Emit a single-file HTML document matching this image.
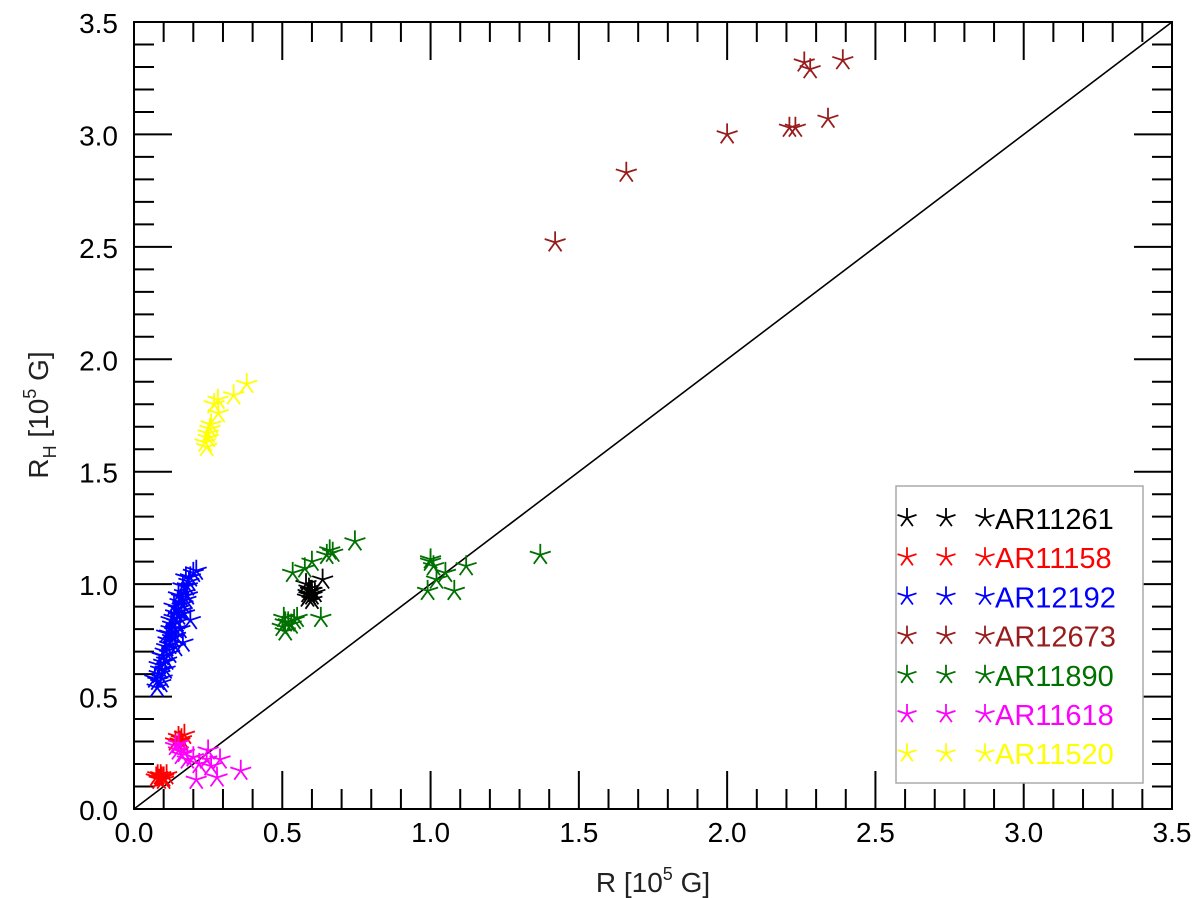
<!DOCTYPE html>
<html><head><meta charset="utf-8">
<style>
body{margin:0;background:#fff;}
svg{display:block;font-family:"Liberation Sans",Arial,sans-serif;}
</style></head>
<body>
<svg id="chart" width="1200" height="898" viewBox="0 0 1200 898" xmlns="http://www.w3.org/2000/svg">
<g id="axes"></g>
<g id="marks"></g>
<g id="legend"></g>
<text x="653" y="892" font-size="28" text-anchor="middle" fill="#222">R [10<tspan font-size="18" dy="-12">5</tspan><tspan dy="12"> G]</tspan></text>
<text transform="translate(48,415) rotate(-90)" font-size="28" text-anchor="middle" fill="#222">R<tspan font-size="18" dy="8">H</tspan><tspan dy="-8"> [10</tspan><tspan font-size="18" dy="-12">5</tspan><tspan dy="12"> G]</tspan></text>
</svg>
<script>
const xTicks=["0.0","0.5","1.0","1.5","2.0","2.5","3.0","3.5"];
const yTicks=["0.0","0.5","1.0","1.5","2.0","2.5","3.0","3.5"];
const seriesNames=["AR11261","AR11158","AR12192","AR12673","AR11890","AR11618","AR11520"];
const seriesColors=["#000000","#ff0000","#0000ff","#991c1c","#007000","#ff00ff","#ffff00"];
const ar11261=[[0.587,0.96],[0.60,0.95],[0.59,0.98],[0.58,1.0],[0.60,0.93],[0.595,0.97],[0.585,0.94],[0.61,0.96],[0.636,1.02],[0.59,0.95],[0.6,0.97]];
const ar11158=[[0.094,0.14],[0.08,0.15],[0.10,0.13],[0.11,0.15],[0.085,0.13],[0.09,0.15],[0.1,0.14],[0.075,0.14],[0.15,0.32],[0.16,0.31],[0.14,0.30],[0.17,0.33],[0.155,0.30]];
const ar12192=[[0.078,0.54],[0.08,0.57],[0.085,0.60],[0.09,0.62],[0.095,0.58],[0.10,0.65],[0.10,0.68],[0.105,0.70],[0.11,0.66],[0.11,0.72],[0.115,0.75],[0.12,0.73],[0.12,0.78],[0.125,0.80],[0.13,0.76],[0.13,0.82],[0.135,0.85],[0.14,0.80],[0.14,0.87],[0.145,0.83],[0.15,0.89],[0.15,0.86],[0.155,0.92],[0.16,0.88],[0.16,0.94],[0.165,0.74],[0.17,0.96],[0.175,0.93],[0.18,0.99],[0.185,1.01],[0.19,0.84],[0.19,1.03],[0.20,1.05],[0.21,1.06],[0.105,0.62],[0.12,0.69],[0.14,0.77],[0.09,0.56],[0.165,0.91],[0.18,0.95],[0.07,0.58],[0.085,0.64],[0.095,0.68],[0.11,0.78],[0.125,0.84],[0.135,0.90],[0.15,0.95],[0.165,0.99],[0.175,1.03],[0.14,0.72],[0.155,0.80],[0.17,0.87]];
const ar12673=[[1.42,2.52],[1.66,2.83],[2.0,3.0],[2.21,3.03],[2.23,3.03],[2.26,3.32],[2.28,3.29],[2.34,3.07],[2.39,3.33]];
const ar11890=[[0.50,0.81],[0.51,0.79],[0.52,0.83],[0.505,0.85],[0.53,0.82],[0.54,0.84],[0.55,0.85],[0.51,0.83],[0.63,0.85],[0.535,1.05],[0.576,1.07],[0.60,1.10],[0.65,1.13],[0.66,1.15],[0.67,1.14],[0.745,1.19],[0.99,0.97],[1.0,1.10],[1.0,1.11],[1.01,1.08],[1.02,1.02],[1.05,1.05],[1.08,0.97],[1.12,1.08],[1.37,1.13]];
const ar11618=[[0.15,0.26],[0.14,0.28],[0.16,0.24],[0.15,0.29],[0.2,0.23],[0.18,0.22],[0.245,0.22],[0.29,0.22],[0.25,0.26],[0.21,0.13],[0.28,0.14],[0.36,0.17],[0.22,0.20],[0.26,0.19],[0.17,0.25]];
const ar11520=[[0.245,1.61],[0.24,1.63],[0.25,1.65],[0.25,1.67],[0.256,1.69],[0.26,1.71],[0.284,1.76],[0.27,1.80],[0.283,1.82],[0.336,1.84],[0.38,1.89]];
const allSeries=[ar11261,ar11158,ar12192,ar12673,ar11890,ar11618,ar11520];

const X0=134,X1=1172,Y0=809,Y1=22,MAXV=3.5;
const sx=v=>X0+(X1-X0)*v/MAXV;
const sy=v=>Y0-(Y0-Y1)*v/MAXV;
const NS="http://www.w3.org/2000/svg";
function mk(tag,attrs,parent){const e=document.createElementNS(NS,tag);for(const k in attrs)e.setAttribute(k,attrs[k]);parent.appendChild(e);return e;}
const axes=document.getElementById('axes');
const frame=mk('rect',{x:X0,y:Y1,width:X1-X0,height:Y0-Y1,fill:'none',stroke:'#000','stroke-width':2},axes);


const diag=mk('line',{x1:sx(0),y1:sy(0),x2:sx(3.5),y2:sy(3.5),stroke:'#000','stroke-width':1.6},axes);


for(let i=0;i<=35;i++){
  const v=i/10, major=i%5===0, L=major?38:20;
  const x=sx(v), y=sy(v);
  mk('line',{x1:x,y1:Y0,x2:x,y2:Y0-L,stroke:'#000','stroke-width':2},axes);
  mk('line',{x1:x,y1:Y1,x2:x,y2:Y1+L,stroke:'#000','stroke-width':2},axes);
  mk('line',{x1:X0,y1:y,x2:X0+L,y2:y,stroke:'#000','stroke-width':2},axes);
  mk('line',{x1:X1,y1:y,x2:X1-L,y2:y,stroke:'#000','stroke-width':2},axes);
}
xTicks.forEach((t,i)=>{const e=mk('text',{x:sx(i*0.5),y:842,'font-size':28,'text-anchor':'middle',fill:'#000'},axes);e.textContent=t;

});
yTicks.forEach((t,i)=>{const e=mk('text',{x:118,y:sy(i*0.5)+11,'font-size':28,'text-anchor':'end',fill:'#000'},axes);e.textContent=t;

});
function star(px,py,r,color,parent){
  let d='';
  for(let k=0;k<5;k++){const a=-Math.PI/2+k*2*Math.PI/5;d+=`M${px} ${py}L${(px+r*Math.cos(a)).toFixed(1)} ${(py+r*Math.sin(a)).toFixed(1)}`;}
  return mk('path',{d:d,stroke:color,'stroke-width':1.8,fill:'none'},parent);
}
const marks=document.getElementById('marks');
allSeries.forEach((s,si)=>{
  s.forEach(p=>{const e=star(sx(p[0]),sy(p[1]),11,seriesColors[si],marks);
  
  });
});
const lg=document.getElementById('legend');
const box=mk('rect',{x:896,y:486,width:247,height:297,fill:'#fff',stroke:'#aaa','stroke-width':1.5},lg);


seriesNames.forEach((n,i)=>{
  const y=518+i*39.2;
  const g=mk('g',{},lg);
  
  
  [907,946,985].forEach(x=>star(x,y,10,seriesColors[i],g));
  const t=mk('text',{x:995,y:y+11,'font-size':29,fill:seriesColors[i]},g);t.textContent=n;
});
</script>
</body></html>
